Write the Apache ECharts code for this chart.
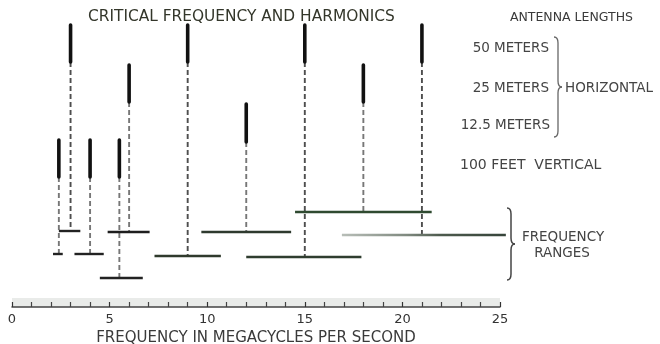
<!DOCTYPE html>
<html>
<head>
<meta charset="utf-8">
<script src="https://cdn.jsdelivr.net/npm/echarts@6/dist/echarts.min.js"></script>
<style>
  html, body { margin: 0; padding: 0; background: #fff; }
  #main { width: 660px; height: 344px; }
</style>
</head>
<body>
<div id="main"></div>
<script>
// antenna rows (bar top / bottom on a hidden height scale, 0 = frequency axis)
var rowNames = ['50 METERS', '25 METERS', '12.5 METERS', '100 FEET  VERTICAL'];
var rowTop = [28.2, 24.2, 20.3, 16.7];
var rowBottom = [24.5, 20.5, 16.5, 13.0];

// critical frequency and harmonics (Mc)
var critFreq = [3, 2.4, 4, 5.5, 6, 9, 12, 15, 18, 21];
var critRow = [0, 3, 3, 3, 1, 0, 2, 0, 1, 0];
var dropTo = [7.6, 5.3, 5.3, 2.9, 7.5, 5.1, 7.5, 5.0, 9.5, 7.2];

// frequency ranges (Mc)
var rangeStart = [2.4, 2.1, 3.2, 4.9, 4.5, 7.3, 9.7, 12.0, 14.5, 16.9];
var rangeEnd = [3.5, 2.6, 4.7, 7.05, 6.7, 10.7, 14.3, 17.9, 21.5, 25.3];
var rangeLevel = [7.6, 5.3, 5.3, 7.5, 2.9, 5.1, 7.5, 5.0, 9.5, 7.2];

var xTicks = [0, 5, 10, 15, 20, 25];

var FONT = 'DejaVu Sans';
var rangeColors = ['#222', '#222', '#222', '#1e1e1e', '#222', '#2f3a2c', '#2e3a2e', '#2f3d2f', '#2f4a30', null];

var myChart = echarts.init(document.getElementById('main'));

var barData = critFreq.map(function (f, i) {
    return [f, rowTop[critRow[i]], rowBottom[critRow[i]]];
});
var dropData = critFreq.map(function (f, i) {
    return [f, rowBottom[critRow[i]], dropTo[i]];
});
var rangeData = rangeStart.map(function (s, i) {
    return [s, rangeEnd[i], rangeLevel[i]];
});

// curly brace "}" made of quadratic curves and lines
function brace(x, y1, y2, w, color, lw) {
    var m = (y1 + y2) / 2, r = 6, xm = x + w;
    var st = { fill: null, stroke: color, lineWidth: lw };
    return [
        { type: 'bezierCurve', shape: { x1: x, y1: y1, cpx1: xm, cpy1: y1, x2: xm, y2: y1 + r }, style: st },
        { type: 'line', shape: { x1: xm, y1: y1 + r, x2: xm, y2: m - r }, style: st },
        { type: 'bezierCurve', shape: { x1: xm, y1: m - r, cpx1: xm, cpy1: m, x2: xm + w, y2: m }, style: st },
        { type: 'bezierCurve', shape: { x1: xm + w, y1: m, cpx1: xm, cpy1: m, x2: xm, y2: m + r }, style: st },
        { type: 'line', shape: { x1: xm, y1: m + r, x2: xm, y2: y2 - r }, style: st },
        { type: 'bezierCurve', shape: { x1: xm, y1: y2 - r, cpx1: xm, cpy1: y2, x2: x, y2: y2 }, style: st }
    ];
}

function txt(text, x, y, align, size, color, weight) {
    return {
        type: 'text', x: x, y: y,
        style: {
            text: text, x: 0, y: 0, align: align || 'left', verticalAlign: 'middle',
            font: (weight || 'normal') + ' ' + (size || 13) + 'px "' + FONT + '"', fill: color || '#444'
        }
    };
}

var graphics = [
    txt('CRITICAL FREQUENCY AND HARMONICS', 88, 17, 'left', 15.4, '#33362a'),
    txt('ANTENNA LENGTHS', 633, 18, 'right', 12.5, '#3a3a3a'),
    txt(rowNames[0], 549, 48, 'right', 13.5),
    txt(rowNames[1], 549, 88, 'right', 13.5),
    txt(rowNames[2], 550, 125, 'right', 13.5),
    txt('HORIZONTAL', 565, 88, 'left', 13.5),
    txt(rowNames[3], 460, 165, 'left', 14),
    txt('FREQUENCY', 563, 237, 'center', 13.5),
    txt('RANGES', 562, 253, 'center', 13.5)
].concat(brace(554, 37, 137, 4, '#666', 1.3), brace(507, 208, 280, 4, '#444', 1.5));

var option = {
    animation: false,
    grid: { left: 12, right: 160, top: 7, bottom: 37, outerBoundsMode: 'none', containLabel: false },
    xAxis: {
        type: 'value', min: 0, max: 25, interval: 5,
        name: 'FREQUENCY IN MEGACYCLES PER SECOND',
        nameLocation: 'middle', nameGap: 24,
        nameTextStyle: { fontFamily: FONT, fontSize: 15, color: '#3a3a3a' },
        axisLine: { lineStyle: { color: '#444', width: 1.5 } },
        axisTick: { inside: true, length: 5, lineStyle: { color: '#333', width: 1.2 } },
        minorTick: { show: true, splitNumber: 5, length: 5, lineStyle: { color: '#444', width: 1.2 } },
        axisLabel: {
            margin: 6, fontFamily: FONT, fontSize: 13, color: '#333',
            formatter: function (v) { return xTicks.indexOf(v) >= 0 ? String(v) : ''; }
        },
        splitLine: { show: false }
    },
    yAxis: { type: 'value', min: 0, max: 30, show: false },
    graphic: graphics,
    series: [
        {
            // ruler band behind the axis
            type: 'custom', clip: false, silent: true, z: -1,
            data: [[0, 25]],
            renderItem: function (params, api) {
                var a = api.coord([api.value(0), 0.9]);
                var b = api.coord([api.value(1), 0]);
                return { type: 'rect', shape: { x: a[0], y: a[1], width: b[0] - a[0], height: b[1] - a[1] },
                    style: { fill: '#e9ebe9' } };
            }
        },
        {
            type: 'custom', clip: false,
            data: dropData,
            renderItem: function (params, api) {
                var p1 = api.coord([api.value(0), api.value(1)]);
                var p2 = api.coord([api.value(0), api.value(2)]);
                var c = critRow[params.dataIndex] === 0 ? '#4e4e4e' : '#777';
                return { type: 'line', shape: { x1: p1[0], y1: p1[1], x2: p2[0], y2: p2[1] },
                    style: { stroke: c, lineWidth: 1.9, lineDash: [5, 3] } };
            }
        },
        {
            type: 'custom', clip: false,
            data: rangeData,
            renderItem: function (params, api) {
                var p1 = api.coord([api.value(0), api.value(2)]);
                var p2 = api.coord([api.value(1), api.value(2)]);
                var stroke = rangeColors[params.dataIndex] || {
                    type: 'linear', x: 0, y: 0, x2: 1, y2: 0,
                    colorStops: [
                        { offset: 0, color: '#b9bfb9' },
                        { offset: 0.4, color: '#7f897f' },
                        { offset: 0.6, color: '#4d5a4d' },
                        { offset: 1, color: '#36443a' }
                    ]
                };
                return { type: 'line', shape: { x1: p1[0], y1: p1[1], x2: p2[0], y2: p2[1] },
                    style: { stroke: stroke, lineWidth: 2.4 } };
            }
        },
        {
            type: 'custom', clip: false,
            data: barData,
            renderItem: function (params, api) {
                var p1 = api.coord([api.value(0), api.value(1)]);
                var p2 = api.coord([api.value(0), api.value(2)]);
                return { type: 'line', shape: { x1: p1[0], y1: p1[1], x2: p2[0], y2: p2[1] },
                    style: { stroke: '#111', lineWidth: 3.6, lineCap: 'round' } };
            }
        }
    ]
};

myChart.setOption(option);
</script>
</body>
</html>
